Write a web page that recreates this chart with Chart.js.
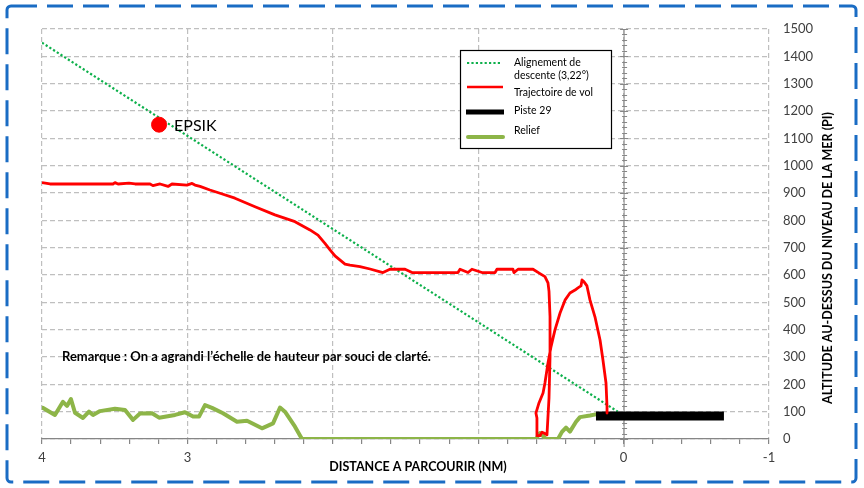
<!DOCTYPE html>
<html lang="fr">
  <head>
    <meta charset="UTF-8">
    <title>Profil d'approche</title>
    <script src="https://cdn.jsdelivr.net/npm/chart.js"></script>
    <style>
      body { margin: 0; background: #ffffff; }
      #wrap { width: 864px; height: 488px; position: relative; }
    </style>
  </head>
  <body>
    <div id="wrap"><canvas id="chart"></canvas></div>

    <script>
      // Alignement de descente (3,22°)
      const glideX = [4, 0.04];
      const glideY = [1450, 100];

      // Trajectoire de vol
      const trajX = [4.000, 3.945, 3.512, 3.498, 3.477, 3.402, 3.360, 3.257, 3.237, 3.188,
        3.133, 3.106, 3.003, 2.968, 2.948, 2.913, 2.845, 2.776, 2.673, 2.535,
        2.398, 2.260, 2.157, 2.102, 2.054, 2.019, 1.985, 1.916, 1.882, 1.813,
        1.744, 1.655, 1.607, 1.503, 1.455, 1.139, 1.125, 1.070, 1.043, 0.974,
        0.884, 0.871, 0.761, 0.754, 0.726, 0.623, 0.575, 0.541, 0.520, 0.513,
        0.506, 0.506, 0.513, 0.527, 0.548, 0.561, 0.575, 0.596, 0.596, 0.603,
        0.582, 0.554, 0.541, 0.520, 0.499, 0.472, 0.437, 0.403, 0.369, 0.334,
        0.314, 0.293, 0.286, 0.272, 0.252, 0.231, 0.197, 0.162, 0.142, 0.121,
        0.114, 0.114];
      const trajY = [938, 933, 933, 938, 933, 936, 933, 933, 927, 933,
        924, 933, 929, 935, 929, 924, 911, 899, 881, 850,
        820, 795, 765, 746, 716, 692, 670, 640, 636, 631,
        622, 609, 621, 621, 609, 609, 621, 609, 621, 609,
        609, 621, 621, 609, 621, 621, 605, 594, 571, 540,
        447, 300, 150, 15, 22, 25, 12, 12, 77, 95,
        132, 168, 205, 278, 338, 399, 461, 508, 534, 545,
        553, 560, 582, 575, 560, 508, 447, 362, 289, 205,
        118, 95];

      // Piste 29
      const runwayX = [0.19, -0.69];
      const runwayY = [84, 84];

      // Relief
      const reliefX = [3.995, 3.911, 3.856, 3.828, 3.801, 3.773, 3.718, 3.677, 3.649, 3.601,
        3.498, 3.429, 3.374, 3.326, 3.243, 3.195, 3.085, 3.017, 2.961, 2.920,
        2.879, 2.831, 2.755, 2.659, 2.590, 2.487, 2.411, 2.363, 2.329, 2.260,
        2.212, 0.603, 0.575, 0.534, 0.451, 0.424, 0.396, 0.369, 0.327, 0.300,
        0.231, 0.183];
      const reliefY = [114, 88, 136, 121, 146, 96, 77, 100, 88, 102,
        111, 106, 70, 93, 94, 78, 88, 98, 82, 82,
        124, 114, 94, 63, 67, 39, 57, 115, 100, 45,
        0, 0, 22, 0, 0, 26, 42, 27, 63, 80,
        86, 91];

      // Point EPSIK
      const epsikX = [3.195];
      const epsikY = [1150];

      const xLabels = [4, 3, 0, -1];

      function pts(xs, ys) {
        return xs.map((x, i) => ({ x: x, y: ys[i] }));
      }

      const gridGray = "#bfbfbf";
      const axisGray = "#868686";
      const textDark = "#404040";

      const decor = {
        id: "decor",
        beforeDatasetsDraw(chart) {
          const ctx = chart.ctx;
          const x = chart.scales.x.getPixelForValue(0);
          const ys = chart.scales.y;
          const top = chart.chartArea.top;
          const bottom = chart.chartArea.bottom;
          ctx.save();
          ctx.strokeStyle = axisGray;
          ctx.lineWidth = 1;
          ctx.beginPath();
          ctx.moveTo(x + 0.5, top);
          ctx.lineTo(x + 0.5, bottom + 8);
          for (let v = 0; v <= 1500; v += 20) {
            const y = Math.round(ys.getPixelForValue(v)) + 0.5;
            const major = v % 100 === 0;
            ctx.moveTo(x + 0.5 - (major ? 4 : 2), y);
            ctx.lineTo(x + 0.5 + (major ? 4 : 3), y);
          }
          ctx.stroke();
          ctx.restore();
        },
        afterDraw(chart) {
          const ctx = chart.ctx;
          ctx.save();

          // cadre bleu
          ctx.strokeStyle = "#1a6cc4";
          ctx.lineWidth = 3;
          ctx.setLineDash([26, 10]);
          ctx.beginPath();
          ctx.roundRect(7, 6, 849, 476, 4);
          ctx.stroke();
          ctx.setLineDash([]);

          // EPSIK
          const ex = chart.scales.x.getPixelForValue(epsikX[0]);
          const ey = chart.scales.y.getPixelForValue(epsikY[0]);
          ctx.fillStyle = "#000000";
          ctx.font = "16px Lato";
          ctx.textBaseline = "middle";
          ctx.textAlign = "left";
          ctx.fillText("EPSIK", ex + 15, ey + 1);

          // remarque
          ctx.font = "bold 13px Lato";
          ctx.fillText("Remarque : On a agrandi l\u2019échelle de hauteur par souci de clarté.", 62, 357);

          // titres des axes
          ctx.font = "bold 12.5px Lato";
          ctx.textAlign = "center";
          ctx.fillText("DISTANCE A PARCOURIR (NM)", 418, 467);
          ctx.save();
          ctx.translate(828, 258);
          ctx.rotate(-Math.PI / 2);
          ctx.fillText("ALTITUDE AU-DESSUS DU NIVEAU DE LA MER (PI)", 0, 0);
          ctx.restore();

          // légende
          ctx.fillStyle = "#ffffff";
          ctx.fillRect(460, 50, 152, 99);
          ctx.strokeStyle = "#000000";
          ctx.lineWidth = 1.2;
          ctx.strokeRect(460.5, 50.5, 151, 98);

          ctx.lineCap = "butt";
          ctx.strokeStyle = "#0db04b";
          ctx.lineWidth = 2.2;
          ctx.setLineDash([2.2, 2.2]);
          ctx.beginPath(); ctx.moveTo(467, 63); ctx.lineTo(501, 63); ctx.stroke();
          ctx.setLineDash([]);
          ctx.strokeStyle = "#ff0000";
          ctx.lineWidth = 2.5;
          ctx.beginPath(); ctx.moveTo(467, 87); ctx.lineTo(503, 87); ctx.stroke();
          ctx.strokeStyle = "#000000";
          ctx.lineWidth = 5;
          ctx.beginPath(); ctx.moveTo(466, 112); ctx.lineTo(504, 112); ctx.stroke();
          ctx.strokeStyle = "#8db548";
          ctx.lineWidth = 4;
          ctx.lineCap = "round";
          ctx.beginPath(); ctx.moveTo(468, 137); ctx.lineTo(503, 137); ctx.stroke();

          ctx.fillStyle = "#000000";
          ctx.font = "10.5px Lato";
          ctx.textAlign = "left";
          ctx.fillText("Alignement de", 514, 63);
          ctx.fillText("descente (3,22°)", 514, 76);
          ctx.fillText("Trajectoire de vol", 514, 93);
          ctx.fillText("Piste 29", 514, 111);
          ctx.fillText("Relief", 514, 131);

          ctx.restore();
        },
      };

      new Chart(document.getElementById("chart"), {
        type: "scatter",
        data: {
          datasets: [
            {
              label: "Alignement de descente (3,22°)",
              data: pts(glideX, glideY),
              showLine: true,
              borderColor: "#0db04b",
              borderWidth: 2.2,
              borderDash: [2.2, 2.2],
              pointRadius: 0,
              order: 3,
            },
            {
              label: "Trajectoire de vol",
              data: pts(trajX, trajY),
              showLine: true,
              borderColor: "#ff0000",
              borderWidth: 2.8,
              borderJoinStyle: "round",
              pointRadius: 0,
              order: 1,
            },
            {
              label: "Piste 29",
              data: pts(runwayX, runwayY),
              showLine: true,
              borderColor: "#000000",
              borderWidth: 9,
              borderCapStyle: "butt",
              pointRadius: 0,
              order: 2,
            },
            {
              label: "Relief",
              data: pts(reliefX, reliefY),
              showLine: true,
              borderColor: "#8db548",
              borderWidth: 4,
              borderJoinStyle: "round",
              borderCapStyle: "round",
              pointRadius: 0,
              order: 4,
            },
            {
              label: "EPSIK",
              data: pts(epsikX, epsikY),
              showLine: false,
              backgroundColor: "#ff0000",
              borderColor: "#ff0000",
              pointRadius: 7.5,
              order: 0,
            },
          ],
        },
        options: {
          responsive: true,
          maintainAspectRatio: false,
          animation: false,
          layout: { padding: { left: 42, top: 29, right: 0, bottom: 0 } },
          plugins: {
            legend: { display: false },
            tooltip: { enabled: false },
          },
          scales: {
            x: {
              type: "linear",
              reverse: true,
              min: -1,
              max: 4,
              afterFit(scale) { scale.height = 49; },
              ticks: {
                stepSize: 0.2,
                maxTicksLimit: 100,
                autoSkip: false,
                maxRotation: 0,
                padding: 6,
                color: textDark,
                font: { family: "Lato", size: 13 },
                callback(v) {
                  const r = Math.round(v);
                  return Math.abs(v - r) < 1e-6 && xLabels.includes(r) ? String(r) : "";
                },
              },
              grid: {
                color(c) {
                  const v = c.tick ? c.tick.value : 0;
                  return Math.abs(v - Math.round(v)) < 1e-6 ? gridGray : "rgba(0,0,0,0)";
                },
                lineWidth: 1.2,
                tickColor: axisGray,
                tickLength: 5,
              },
              border: { display: true, color: axisGray, width: 1.2, dash: [5, 3] },
            },
            y: {
              position: "right",
              min: 0,
              max: 1500,
              afterFit(scale) { scale.width = 95; },
              ticks: {
                stepSize: 100,
                autoSkip: false,
                padding: 14,
                color: textDark,
                font: { family: "Lato", size: 13 },
                callback(v) { return String(v); },
              },
              grid: {
                color: gridGray,
                lineWidth: 1.2,
                drawTicks: false,
              },
              border: { display: false, dash: [5, 3] },
            },
          },
        },
        plugins: [decor],
      });
    </script>
  </body>
</html>
